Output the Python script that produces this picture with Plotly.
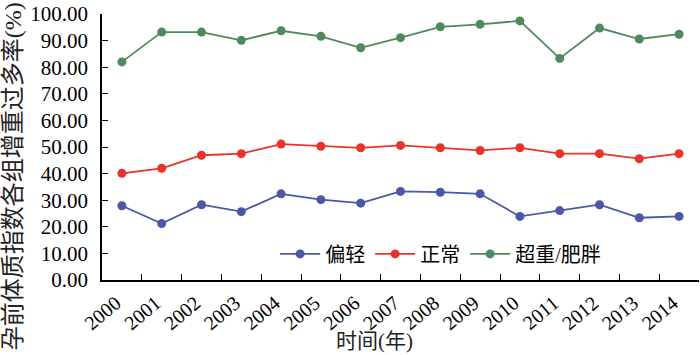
import plotly.graph_objects as go

years = [str(y) for y in range(2000, 2015)]
light = [27.9, 21.2, 28.3, 25.7, 32.4, 30.2, 28.9, 33.3, 33.0, 32.4, 23.9, 26.1, 28.3, 23.4, 23.9]
normal = [40.1, 42.0, 46.9, 47.5, 51.1, 50.3, 49.7, 50.6, 49.7, 48.7, 49.7, 47.5, 47.5, 45.6, 47.5]
over = [82.0, 93.2, 93.2, 90.1, 93.7, 91.6, 87.3, 91.1, 95.2, 96.1, 97.4, 83.3, 94.7, 90.6, 92.4]
names = ["偏轻", "正常", "超重/肥胖"]
colors = ["#4a58a6", "#e8332c", "#4f8a5c"]
ytick_vals = list(range(0, 101, 10))
ytick_text = [f"{v:.2f}" for v in ytick_vals]

FONT = "Times New Roman, Liberation Serif, DejaVu Serif, Noto Sans CJK SC"

fig = go.Figure()
for name, vals, col in zip(names, [light, normal, over], colors):
    fig.add_trace(go.Scatter(
        x=years, y=vals, name=name, mode="lines+markers",
        line=dict(color=col, width=1.8),
        marker=dict(color=col, size=9),
    ))

fig.update_layout(
    width=700, height=355,
    margin=dict(l=102, r=1, t=14, b=75),
    plot_bgcolor="white", paper_bgcolor="white",
    font=dict(family=FONT, color="black", size=20),
    showlegend=True,
    legend=dict(orientation="h", x=0.29, xanchor="left", y=0.098, yanchor="middle",
                font=dict(size=20, family=FONT), bgcolor="rgba(0,0,0,0)",
                itemwidth=40, tracegroupgap=0),
    xaxis=dict(type="category", range=[-0.5, len(years) - 0.5], tickangle=-40,
               tickson="boundaries",
               ticks="inside", ticklen=6, tickcolor="black", tickwidth=1.3,
               showline=True, linecolor="black", linewidth=1.5, showgrid=False,
               zeroline=False, automargin=False, ticklabelshift=-6,
               ticklabelstandoff=2,
               tickfont=dict(size=20, family=FONT)),
    yaxis=dict(range=[0, 100], tickvals=ytick_vals, ticktext=ytick_text,
               ticks="inside", ticklen=6, tickcolor="black", tickwidth=1.3,
               showline=True, linecolor="black", linewidth=1.5, showgrid=False,
               zeroline=False, automargin=False, ticklabelstandoff=8,
               tickfont=dict(size=21, family=FONT)),
    annotations=[
        dict(text="孕前体质指数各组增重过多率(%)", xref="paper", yref="paper",
             x=-0.149, y=0.39, xanchor="center", yanchor="middle", textangle=-90,
             showarrow=False, font=dict(size=24, family=FONT, color="#222")),
        dict(text="时间(年)", xref="paper", yref="paper",
             x=0.456, y=-0.23, xanchor="center", yanchor="middle",
             showarrow=False, font=dict(size=21, family=FONT, color="#222")),
    ],
)

fig.write_html("out.html", config={"displayModeBar": False},
               post_script="document.body.style.margin='0';")
